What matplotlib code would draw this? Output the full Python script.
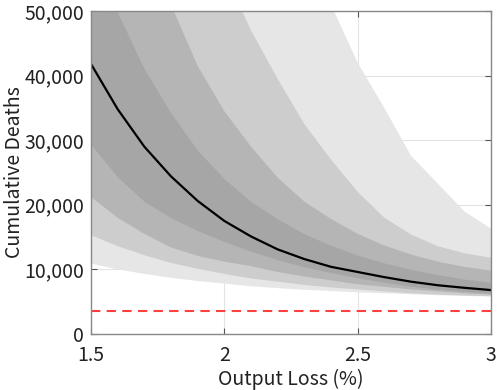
import matplotlib
matplotlib.use("Agg")
import matplotlib.pyplot as plt
from matplotlib.ticker import FuncFormatter

plt.rcParams['font.family'] = ['Noto Sans CJK JP', 'DejaVu Sans']

output_loss = [1.5, 1.6, 1.7, 1.8, 1.9, 2.0, 2.1, 2.2, 2.3, 2.4, 2.5, 2.6, 2.7, 2.8, 2.9, 3.0]
median = [41800, 34800, 29000, 24400, 20600, 17500, 15100, 13100, 11600, 10400, 9600, 8800, 8100, 7550, 7150, 6800]

upper_1 = [57500, 49700, 41000, 34200, 28400, 24000, 20500, 17800, 15500, 13700, 12200, 11000, 10000, 9200, 8500, 8000]
upper_2 = [93000, 76000, 62000, 51000, 41500, 34500, 29000, 24200, 20500, 17800, 15500, 13700, 12300, 11200, 10400, 9800]
upper_3 = [130000, 105000, 86000, 72000, 62000, 56000, 47000, 39500, 32500, 27000, 22000, 18000, 15400, 13600, 12500, 11800]
upper_4 = [200000, 160000, 130000, 110000, 95000, 84000, 74000, 66000, 58000, 51000, 42000, 35000, 27600, 23300, 19000, 16300]

lower_1 = [29300, 24300, 20500, 18000, 16000, 14300, 12800, 11500, 10400, 9500, 8700, 8000, 7400, 6900, 6600, 6300]
lower_2 = [21200, 18000, 15500, 13400, 12100, 11200, 10500, 9600, 8900, 8300, 7700, 7300, 6900, 6600, 6300, 6100]
lower_3 = [15300, 13600, 12200, 11000, 10100, 9300, 8600, 8100, 7600, 7200, 6900, 6600, 6300, 6100, 5950, 5850]
lower_4 = [10900, 10000, 9300, 8700, 8200, 7800, 7400, 7100, 6850, 6650, 6450, 6300, 6150, 6000, 5900, 5800]

threshold = 3600

band_colors = ['#e6e6e6', '#cdcdcd', '#b5b5b5', '#a6a6a6']

fig = plt.figure(figsize=(5.0, 3.9), dpi=100)
ax = fig.add_axes([0.182, 0.1436, 0.8, 0.8282])

ax.grid(True, color='#e4e4e4', linewidth=0.8)
ax.set_axisbelow(True)

bands = [(lower_4, upper_4), (lower_3, upper_3), (lower_2, upper_2), (lower_1, upper_1)]
for (lo, hi), c in zip(bands, band_colors):
    ax.fill_between(output_loss, lo, hi, color=c, linewidth=0, zorder=1)

ax.plot(output_loss, median, color='black', linewidth=1.6, zorder=3)
ax.axhline(threshold, color='#ff4040', linestyle=(0, (4.5, 3)), linewidth=1.5, zorder=3)

ax.set_xlim(1.5, 3)
ax.set_ylim(0, 50000)
ax.set_xticks([1.5, 2, 2.5, 3])
ax.set_xticklabels(['1.5', '2', '2.5', '3'])
ax.set_yticks([0, 10000, 20000, 30000, 40000, 50000])
ax.yaxis.set_major_formatter(FuncFormatter(lambda v, p: f'{int(v):,}'))

ax.tick_params(direction='in', length=4, width=0.8, color='#555555',
               top=True, right=True, labelsize=14, labelcolor='#222222')
ax.tick_params(axis='x', pad=8)
ax.tick_params(axis='y', pad=5)
for s in ax.spines.values():
    s.set_color('#888888')
    s.set_linewidth(1.0)
    s.set_zorder(4)

ax.set_xlabel('Output Loss (%)', fontsize=14, color='#222222', labelpad=2)
ax.set_ylabel('Cumulative Deaths', fontsize=14, color='#222222')
ax.yaxis.set_label_coords(-0.165, 0.5)

fig.savefig('out.png', dpi=100)
